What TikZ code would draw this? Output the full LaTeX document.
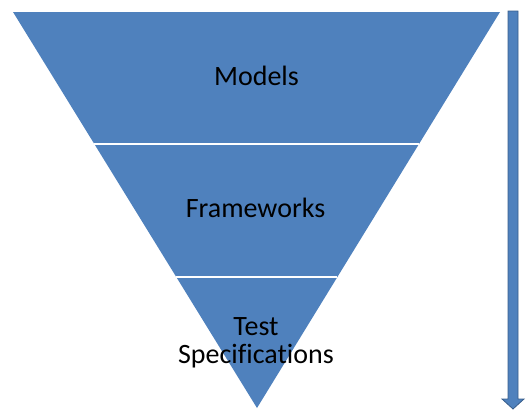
\documentclass[tikz,border=0pt]{standalone}
\usepackage{fontspec}
\setmainfont[Ligatures=NoCommon]{Carlito}
\usetikzlibrary{calc}
\definecolor{tierblue}{HTML}{4F81BD}
\definecolor{arrowedge}{HTML}{385D8A}
\begin{document}
\begin{tikzpicture}[x=1pt,y=-1pt,
  tierlabel/.style={anchor=base,inner sep=0pt,font=\fontsize{28}{29}\selectfont,text=black},
  divider/.style={draw=white,line width=1.4pt}]
\useasboundingbox (0,0) rectangle (532,410);
% inverted pyramid
\coordinate (tl) at (13,12);
\coordinate (tr) at (500,12);
\coordinate (apex) at (257,408);
\fill[tierblue] (tl) -- (tr) -- (apex) -- cycle;
\coordinate (l1) at ($(tl)!1/3!(apex)$);
\coordinate (r1) at ($(tr)!1/3!(apex)$);
\coordinate (l2) at ($(tl)!0.669!(apex)$);
\coordinate (r2) at ($(tr)!0.669!(apex)$);
\draw[divider] (l1) -- (r1);
\draw[divider] (l2) -- (r2);
% tier labels
\node[tierlabel] (models) at (256.5,85) {Models};
\node[tierlabel] (frameworks) at (255.5,217) {Frameworks};
\node[tierlabel] (test) at (256,335) {Test};
\node[tierlabel] (specs) at (256,363) {Specifications};
% downward arrow
\filldraw[fill=tierblue,draw=arrowedge,line width=0.8pt,line join=miter]
  (508,11) -- (518,11) -- (518,399) -- (524,399) -- (513,409) -- (502,399) -- (508,399) -- cycle;
\end{tikzpicture}
\end{document}
